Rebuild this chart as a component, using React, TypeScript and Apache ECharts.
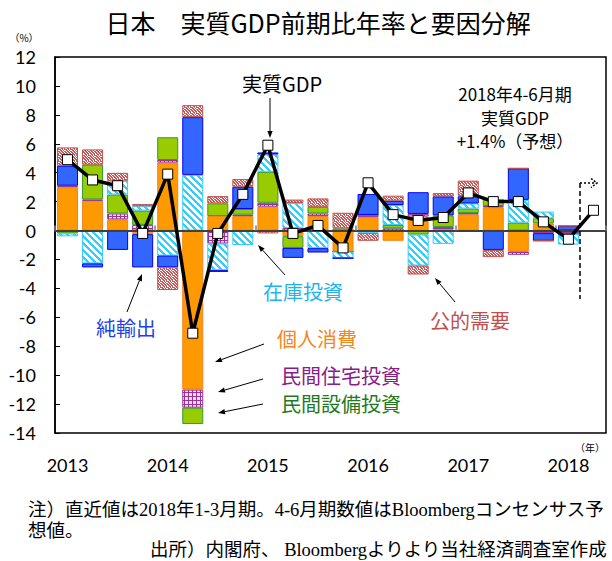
import React, { useEffect, useRef } from "react";
import * as echarts from "echarts";

const quarters = [
  "2013Q1", "2013Q2", "2013Q3", "2013Q4",
  "2014Q1", "2014Q2", "2014Q3", "2014Q4",
  "2015Q1", "2015Q2", "2015Q3", "2015Q4",
  "2016Q1", "2016Q2", "2016Q3", "2016Q4",
  "2017Q1", "2017Q2", "2017Q3", "2017Q4",
  "2018Q1", "2018Q2",
];
const privateConsumption = [3.0, 2.05, 0.77, -0.25, 4.7, -11.0, 1.0, 1.0, 1.65, -0.39, 1.0, -1.45, 0.92, -0.71, 0.97, 0.1, 1.12, 1.6, -1.45, 0.5, -0.05];
const housingInvestment = [0.1, 0.1, 0.41, 0.39, 0.18, -1.25, -0.9, 0.1, 0.27, 0.18, 0.18, 0, 0.16, 0.15, 0.18, 0.15, 0.1, 0.1, -0.23, -0.18, -0.18];
const capexInvestment = [-0.2, 2.4, 1.31, 0.99, 1.57, -1.13, 0.88, 0.39, 2.14, -0.81, 0.46, 0.15, 0, 0.23, -0.28, 0.8, 0.3, 0.45, 0.55, 0.35, 0];
const inventoryInvestment = [-0.2, -2.27, 0.95, 0.3, -1.73, 3.85, -1.84, -1.0, 1.2, 1.73, -1.22, -0.46, -0.18, 1.38, -2.14, -0.92, 0.35, 0, 1.57, 0.46, -0.74];
const netExports = [1.38, -0.28, -1.34, -2.3, -0.81, 3.99, -0.12, 1.54, 0.14, -0.69, -0.3, 0, 1.45, 0.3, 1.5, 1.31, 0.5, -1.34, 2.18, -0.53, 0.32];
const publicDemand = [1.27, 1.06, 0.55, 0.15, -1.57, 0.83, 0.5, 0.53, -0.2, 0.23, 0.58, 1.08, -0.53, 0.35, -0.62, 0.23, 1.08, -0.5, 0, 0, 0];
const realGdp = [4.9, 3.5, 3.1, -0.2, 3.9, -7.1, -0.2, 2.5, 5.9, -0.2, 0.35, -1.2, 3.3, 1.1, 0.7, 0.9, 2.6, 2.0, 2.0, 0.6, -0.6, 1.4];

const CJK = '"Noto Sans CJK JP", "Noto Sans", sans-serif';
const NUM = 'Lato, "Noto Sans", sans-serif';
const FOOT = '"Liberation Serif", "Noto Sans CJK JP", serif';

function makeTile(w: number, h: number, draw: (ctx: CanvasRenderingContext2D) => void) {
  const c = document.createElement("canvas");
  c.width = w;
  c.height = h;
  const ctx = c.getContext("2d") as CanvasRenderingContext2D;
  draw(ctx);
  return c;
}

function arrow(x1: number, y1: number, x2: number, y2: number) {
  const dx = x2 - x1, dy = y2 - y1;
  const len = Math.hypot(dx, dy);
  const ux = dx / len, uy = dy / len;
  const hl = 7, hw = 2.6;
  const bx = x2 - ux * hl, by = y2 - uy * hl;
  return [
    { type: "line", z: 100, shape: { x1, y1, x2: bx, y2: by }, style: { stroke: "#000", lineWidth: 1 } },
    {
      type: "polygon", z: 100,
      shape: { points: [[x2, y2], [bx - uy * hw, by + ux * hw], [bx + uy * hw, by - ux * hw]] },
      style: { fill: "#000" },
    },
  ];
}

function txt(text: string, x: number, y: number, fontSize: number, fill: string, family = CJK, align = "center") {
  return {
    type: "text", z: 100, x, y,
    style: {
      text, fill, fontSize, fontFamily: family,
      align, textAlign: align, verticalAlign: "middle", textVerticalAlign: "middle",
    },
  };
}

export default function App() {
  const ref = useRef<HTMLDivElement>(null);
  useEffect(() => {
    if (!ref.current) return;
    const chart = echarts.init(ref.current, undefined, { renderer: "svg" });

    const stripe = makeTile(7, 7, (ctx) => {
      ctx.fillStyle = "#ffffff";
      ctx.fillRect(0, 0, 7, 7);
      ctx.fillStyle = "#33CCFF";
      for (let x = 0; x < 7; x++) for (let y = 0; y < 7; y++) {
        if ((((x - y) % 7) + 7) % 7 < 3) ctx.fillRect(x, y, 1, 1);
      }
    });
    const grid = makeTile(4, 4, (ctx) => {
      ctx.fillStyle = "#993399";
      ctx.fillRect(0, 0, 4, 4);
      ctx.fillStyle = "#F2E0F2";
      ctx.fillRect(1, 1, 3, 3);
    });
    const mask = ["110100", "011011", "101101", "110110", "011010", "101011"];
    const dots = makeTile(6, 6, (ctx) => {
      ctx.fillStyle = "#ffffff";
      ctx.fillRect(0, 0, 6, 6);
      ctx.fillStyle = "#CC5555";
      for (let y = 0; y < 6; y++) for (let x = 0; x < 6; x++) {
        if (mask[y][x] === "1") ctx.fillRect(x, y, 1, 1);
      }
    });

    const barBase = { type: "bar", stack: "total", barWidth: 21, xAxisIndex: 0 };

    const graphics: any[] = [
      txt("日本　実質GDP前期比年率と要因分解", 318, 22, 25, "#000"),
      txt("（%）", 24, 37, 10, "#000"),
      txt("（年）", 590, 447, 10, "#000"),
      txt("実質GDP", 282, 83, 20, "#000"),
      txt("2018年4-6月期", 515, 93, 17, "#000"),
      txt("実質GDP", 515, 117, 17, "#000"),
      txt("+1.4%（予想）", 515, 140, 17, "#000"),
      txt("在庫投資", 303, 291, 20, "#1EB4F0"),
      txt("純輸出", 126, 327, 20, "#1F3FE6"),
      txt("公的需要", 470, 320, 20, "#C0504D"),
      txt("個人消費", 317, 338, 20, "#F7861B"),
      txt("民間住宅投資", 341, 375, 20, "#8B1A8B"),
      txt("民間設備投資", 341, 403, 20, "#1E7B1E"),
      txt("注）直近値は2018年1-3月期。4-6月期数値はBloombergコンセンサス予", 28, 510, 18.5, "#000", FOOT, "left"),
      txt("想値。", 28, 531, 18.5, "#000", FOOT, "left"),
      txt("出所）内閣府、 Bloombergよりより当社経済調査室作成", 150, 550, 18.5, "#000", FOOT, "left"),
      ...arrow(270, 98, 270, 138),
      ...arrow(127, 312, 142, 274),
      ...arrow(285, 275, 258, 245),
      ...arrow(455, 302, 435, 278),
      ...arrow(264, 344, 215, 362),
      ...arrow(263, 379, 218, 392),
      ...arrow(263, 404, 218, 413),
      { type: "line", z: 100, shape: { x1: 580, y1: 183, x2: 580, y2: 299 }, style: { stroke: "#000", lineWidth: 1.5, lineDash: [5, 3] } },
      { type: "line", z: 100, shape: { x1: 580, y1: 183, x2: 596, y2: 183 }, style: { stroke: "#000", lineWidth: 1.5, lineDash: [2, 2] } },
      { type: "polyline", z: 100, shape: { points: [[591, 178.5], [597, 183], [591, 187.5]] }, style: { stroke: "#000", lineWidth: 1.5, fill: "none", lineDash: [2, 1.5] } },
    ];

    chart.setOption({
      animation: false,
      grid: {
        left: 55, right: 6, top: 57, bottom: 128,
        show: true, borderColor: "#000", borderWidth: 1.5, backgroundColor: "transparent",
      },
      xAxis: [
        {
          type: "category", data: quarters, position: "bottom",
          axisLine: { show: false, onZero: false },
          axisTick: { show: false },
          axisLabel: {
            interval: 3, margin: 23, fontSize: 18, fontFamily: NUM, color: "#000",
            formatter: (v: string) => v.slice(0, 4),
          },
          splitLine: { show: false },
        },
        {
          type: "category", data: quarters, position: "top", z: 5,
          axisLine: { show: true, onZero: true, lineStyle: { color: "#404040", width: 2 } },
          axisTick: { show: true, interval: 3, inside: false, length: 5, lineStyle: { color: "#808080", width: 1.5 } },
          axisLabel: { show: false },
          splitLine: { show: false },
        },
      ],
      yAxis: {
        type: "value", min: -14, max: 12, interval: 2,
        axisLine: { show: true, lineStyle: { color: "#000", width: 1.5 } },
        axisTick: { show: true, inside: true, length: 5, lineStyle: { color: "#000" } },
        axisLabel: { fontSize: 18, fontFamily: NUM, color: "#000", margin: 19 },
        splitLine: { show: false },
      },
      series: [
        { ...barBase, name: "個人消費", data: privateConsumption, itemStyle: { color: "#FF9900", borderColor: "#F58220", borderWidth: 1 } },
        { ...barBase, name: "民間住宅投資", data: housingInvestment, itemStyle: { color: { image: grid, repeat: "repeat" }, borderColor: "#993399", borderWidth: 1 } },
        { ...barBase, name: "民間設備投資", data: capexInvestment, itemStyle: { color: "#99CC00", borderColor: "#339933", borderWidth: 1 } },
        { ...barBase, name: "在庫投資", data: inventoryInvestment, itemStyle: { color: { image: stripe, repeat: "repeat" }, borderColor: "#33CCFF", borderWidth: 1 } },
        { ...barBase, name: "純輸出", data: netExports, itemStyle: { color: "#3366FF", borderColor: "#0000EE", borderWidth: 1 } },
        { ...barBase, name: "公的需要", data: publicDemand, itemStyle: { color: { image: dots, repeat: "repeat" }, borderColor: "#C0504D", borderWidth: 1 } },
        {
          type: "line", name: "実質GDP", data: realGdp, xAxisIndex: 0, z: 10,
          symbol: "rect", symbolSize: 10,
          lineStyle: { color: "#000", width: 3.5 },
          itemStyle: { color: "#fff", borderColor: "#000", borderWidth: 1 },
        },
      ],
      graphic: graphics,
    });
    return () => chart.dispose();
  }, []);
  return <div ref={ref} style={{ position: "fixed", left: 0, top: 0, width: 612, height: 561, background: "#fff" }} />;
}
